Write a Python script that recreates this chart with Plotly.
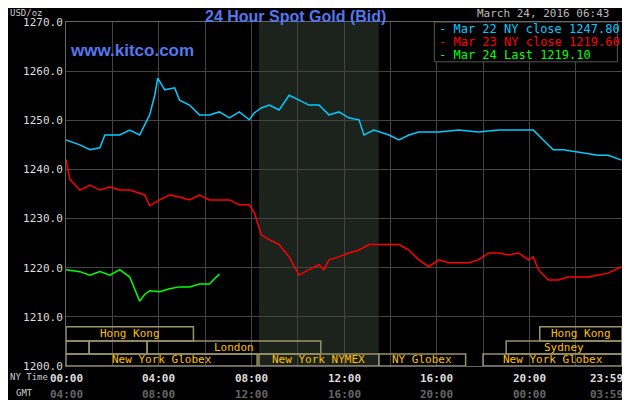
import plotly.graph_objects as go

# hours since NY midnight, prices in USD/oz
mar22_t = [0, 0.6, 1.03, 1.46, 1.68, 2.32, 2.75, 3.18, 3.61, 3.83, 3.96, 4.26, 4.69, 4.9, 5.33, 5.76,
           6.19, 6.62, 7.05, 7.48, 7.91, 8.13, 8.43, 8.77, 9.2, 9.63, 10.06, 10.49, 10.92, 11.35, 11.78,
           12.2, 12.65, 12.86, 13.29, 13.94, 14.37, 14.8, 15.23, 16.09, 16.95, 17.8, 18.67, 19.53, 20.17,
           20.6, 21.03, 21.46, 22.1, 22.97, 23.4, 23.98]
mar22_v = [1246.0, 1245.0, 1244.0, 1244.4, 1247.0, 1247.0, 1248.0, 1247.0, 1251.1, 1255.1, 1258.6, 1256.2,
           1256.6, 1254.1, 1253.1, 1251.1, 1251.1, 1251.7, 1250.5, 1251.7, 1250.1, 1251.5, 1252.5, 1253.1,
           1252.1, 1255.1, 1254.1, 1253.1, 1253.1, 1251.1, 1251.7, 1250.5, 1250.1, 1247.0, 1248.0, 1247.0,
           1246.0, 1247.0, 1247.6, 1247.6, 1248.0, 1247.6, 1248.0, 1248.0, 1248.0, 1246.0, 1244.0, 1244.0,
           1243.5, 1242.9, 1242.9, 1241.9]

mar23_t = [0, 0.17, 0.6, 1.03, 1.46, 1.89, 2.32, 2.75, 3.4, 3.61, 4.04, 4.47, 4.9, 5.33, 5.76, 6.19,
           6.62, 7.05, 7.48, 7.91, 8.13, 8.43, 8.77, 9.2, 9.63, 10.06, 10.49, 10.92, 11.13, 11.35, 11.78,
           12.2, 12.65, 13.08, 13.5, 14.37, 14.8, 15.23, 15.66, 16.09, 16.5, 16.95, 17.38, 17.8, 18.24,
           18.67, 19.1, 19.53, 19.96, 20.17, 20.39, 20.82, 21.25, 21.68, 22.1, 22.54, 22.97, 23.4, 23.98]
mar23_v = [1242.0, 1237.9, 1235.8, 1236.8, 1235.8, 1236.4, 1235.8, 1235.8, 1234.8, 1232.6, 1233.8, 1234.8,
           1234.4, 1233.8, 1234.8, 1233.8, 1233.8, 1233.8, 1232.8, 1232.8, 1231.2, 1226.7, 1225.7, 1224.7,
           1222.2, 1218.5, 1219.6, 1220.6, 1219.6, 1221.6, 1222.2, 1223.0, 1223.6, 1224.7, 1224.7, 1224.7,
           1223.6, 1221.6, 1220.2, 1221.6, 1221.0, 1221.0, 1221.0, 1221.6, 1223.0, 1223.0, 1222.6, 1223.0,
           1221.6, 1222.2, 1219.6, 1217.5, 1217.5, 1218.1, 1218.1, 1218.1, 1218.5, 1218.9, 1220.2]

mar24_t = [0, 0.6, 1.03, 1.46, 1.89, 2.32, 2.75, 2.97, 3.18, 3.4, 3.61, 4.04, 4.47, 4.9, 5.33, 5.76,
           6.19, 6.4, 6.62]
mar24_v = [1219.6, 1219.2, 1218.5, 1219.2, 1218.5, 1219.6, 1218.1, 1215.7, 1213.2, 1214.6, 1215.3, 1215.1,
           1215.7, 1216.1, 1216.1, 1216.7, 1216.7, 1217.7, 1218.7]

legend_text = ["Mar 22 NY close 1247.80", "Mar 23 NY close 1219.60", "Mar 24 Last 1219.10"]
series_col = ["#00ccff", "#ff0000", "#00ff00"]

ny_labels = ["00:00", "04:00", "08:00", "12:00", "16:00", "20:00", "23:59"]
gmt_labels = ["04:00", "08:00", "12:00", "16:00", "20:00", "00:00", "03:59"]
label_pos = [0, 4, 8, 12, 16, 20, 24]

# market sessions: (start, end, row, name)
sessions = [(0, 5.5, 0, "Hong Kong"), (20.45, 24, 0, "Hong Kong"),
            (0, 1.0, 1, ""), (1.0, 3.5, 1, ""), (3.5, 11.0, 1, "London"), (19.0, 24, 1, "Sydney"),
            (0, 8.25, 2, "New York Globex"), (8.33, 13.5, 2, "New York NYMEX"),
            (13.5, 17.25, 2, "NY Globex"), (18.0, 24, 2, "New York Globex")]
row_y = [(1205.1, 1208.0), (1202.45, 1205.1), (1200, 1202.45)]

mono = "DejaVu Sans Mono"
fig = go.Figure()

for t, v, c in zip([mar22_t, mar23_t, mar24_t], [mar22_v, mar23_v, mar24_v], series_col):
    fig.add_trace(go.Scatter(x=t, y=v, mode="lines", line=dict(color=c, width=1.5), showlegend=False))

# NYMEX pit hours shading
fig.add_vrect(x0=8.33, x1=13.5, fillcolor="#1c221c", line_width=0, layer="below")

for s0, s1, r, name in sessions:
    y0, y1 = row_y[r]
    fig.add_shape(type="rect", x0=s0, x1=s1, y0=y0, y1=y1, line=dict(color="#99936a", width=1.5))
    if name:
        fig.add_annotation(x=(s0 + s1) / 2, y=(y0 + y1) / 2, text=name, showarrow=False,
                           font=dict(family=mono, size=11, color="#ffc000"))

# legend box
fig.add_shape(type="rect", x0=15.9, x1=23.8, y0=1261.9, y1=1270, fillcolor="black",
              line=dict(color="#555", width=1))
for i, (txt, c) in enumerate(zip(legend_text, series_col)):
    fig.add_annotation(x=16.0, y=1268.5 - i * 2.6, text="- " + txt, showarrow=False, xanchor="left",
                       font=dict(family=mono, size=12, color=c))

for p, a, b in zip(label_pos, ny_labels, gmt_labels):
    anchor = "right" if p == 24 else "center"
    shift = 3 if p == 24 else 0
    fig.add_annotation(x=p, y=-0.012, yref="paper", text="<b>" + a + "</b>", showarrow=False, yanchor="top",
                       xanchor=anchor, xshift=shift, font=dict(family=mono, size=11, color="#dddddd"))
    fig.add_annotation(x=p, y=-0.058, yref="paper", text="<b>" + b + "</b>", showarrow=False, yanchor="top",
                       xanchor=anchor, xshift=shift, font=dict(family=mono, size=11, color="#666666"))
fig.add_annotation(x=-0.104, y=-0.012, xref="paper", yref="paper", text="NY Time", showarrow=False,
                   xanchor="left", yanchor="top", font=dict(family=mono, size=9, color="#cccccc"))
fig.add_annotation(x=-0.094, y=-0.058, xref="paper", yref="paper", text="GMT", showarrow=False,
                   xanchor="left", yanchor="top", font=dict(family=mono, size=9, color="#cccccc"))

fig.add_annotation(x=0.5, y=1.0, xref="paper", yref="paper", text="<b>24 Hour Spot Gold (Bid)</b>",
                   showarrow=False, yanchor="bottom", xshift=-49, yshift=-5,
                   font=dict(family="Liberation Sans", size=16, color="#5577ee"))
fig.add_annotation(x=0.98, y=1.0, xref="paper", yref="paper", text="March 24, 2016 06:43", showarrow=False,
                   xanchor="right", yanchor="bottom", font=dict(family=mono, size=11, color="#bbbbbb"))
fig.add_annotation(x=-0.104, y=1.0, xref="paper", yref="paper", text="USD/oz", showarrow=False,
                   xanchor="left", yanchor="bottom", yshift=2, font=dict(family=mono, size=9, color="#cccccc"))
fig.add_annotation(x=0.003, y=0.95, xref="paper", yref="paper", text="<b>www.kitco.com</b>", showarrow=False,
                   xanchor="left", font=dict(family="Liberation Sans", size=17, color="#5577ee"))

# page body adds an 8px margin, so the figure is 8px smaller than the window
fig.update_layout(
    width=622, height=392, margin=dict(l=58, r=8, t=14, b=34, autoexpand=False),
    paper_bgcolor="black", plot_bgcolor="black",
    xaxis=dict(range=[0, 24], tickvals=list(range(0, 25, 2)), showticklabels=False, automargin=False,
               gridcolor="#444", zeroline=False, showline=True, linecolor="#666", mirror=True),
    yaxis=dict(range=[1200, 1270], tickvals=list(range(1200, 1271, 10)), tickformat=".1f", automargin=False,
               gridcolor="#444", zeroline=False, showline=True, linecolor="#666", mirror=True,
               tickfont=dict(family=mono, size=11, color="#dddddd")),
)

fig.write_html("out.html")
